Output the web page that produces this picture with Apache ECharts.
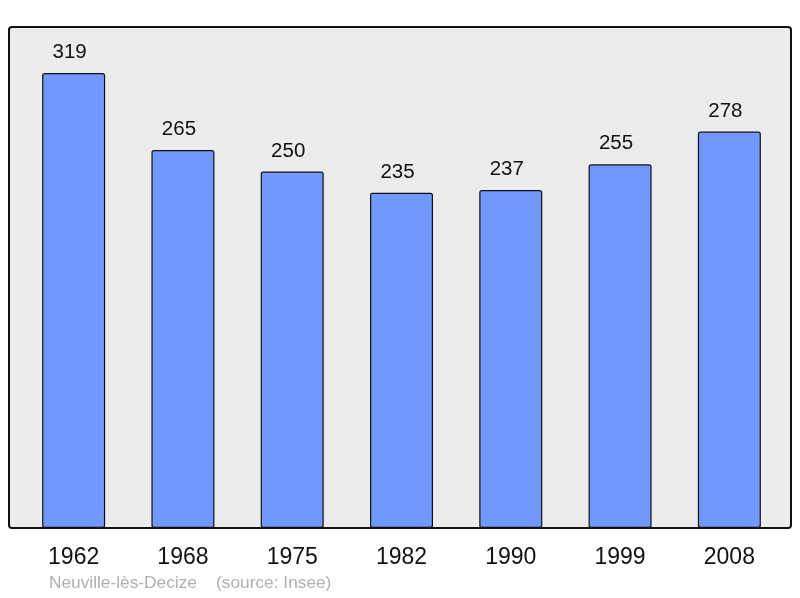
<!DOCTYPE html>
<html>
<head>
<meta charset="utf-8">
<script src="https://cdn.jsdelivr.net/npm/echarts@6/dist/echarts.min.js"></script>
<style>
  html, body { margin: 0; padding: 0; background: #fff; }
  #chart { width: 800px; height: 598px; }
</style>
</head>
<body>
<div id="chart"></div>
<script>
// data
var years = ['1962', '1968', '1975', '1982', '1990', '1999', '2008'];
var population = [319, 265, 250, 235, 237, 255, 278];
var footerText = 'Neuville-lès-Decize    (source: Insee)';

var myChart = echarts.init(document.getElementById('chart'));
myChart.setOption({
    animation: false,
    textStyle: { fontFamily: 'Liberation Sans, Arial, sans-serif' },
    graphic: [
        { // plot frame
            type: 'rect',
            z: -10,
            shape: { x: 9, y: 27, width: 782, height: 501, r: 3 },
            style: { fill: '#ececec', stroke: '#111', lineWidth: 2 }
        },
        {
            type: 'text',
            left: 49,
            top: 575,
            style: { text: footerText, fill: '#b0b0b0', fontSize: 17.3, fontFamily: 'Liberation Sans, Arial, sans-serif' }
        }
    ],
    grid: { left: 19, right: 16, top: 27, bottom: 70 },
    xAxis: {
        type: 'category',
        data: years,
        axisLine: { show: false },
        axisTick: { show: false },
        axisLabel: { color: '#111', fontSize: 23, margin: 18 }
    },
    yAxis: {
        type: 'value',
        min: 0,
        max: 351.3,
        show: false,
        splitLine: { show: false }
    },
    series: [{
        type: 'bar',
        data: population,
        barWidth: 63,
        itemStyle: { color: '#7098ff', borderColor: '#111', borderWidth: 1.2, borderRadius: 2 },
        label: { show: true, position: 'top', distance: 10, offset: [-4, 0], color: '#111', fontSize: 20.5 }
    }]
});
</script>
</body>
</html>
